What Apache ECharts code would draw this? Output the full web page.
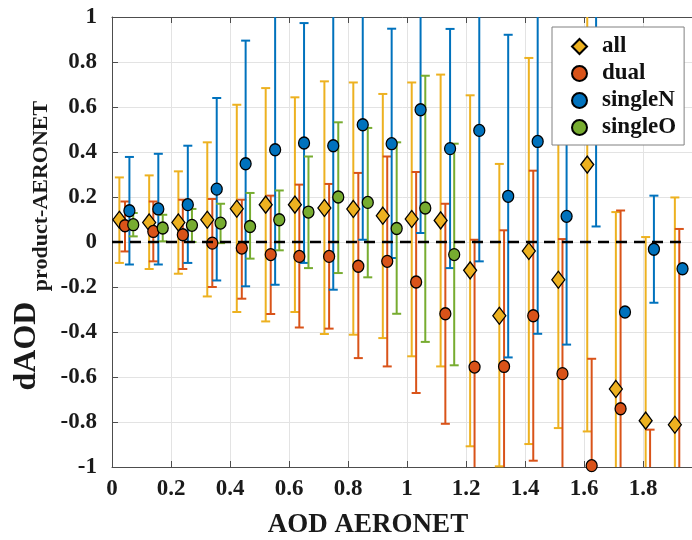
<!DOCTYPE html>
<html><head><meta charset="utf-8">
<script src="https://cdn.jsdelivr.net/npm/echarts@6/dist/echarts.min.js"></script>
<style>html,body{margin:0;padding:0;background:#fff}#c{width:692px;height:540px}</style>
</head><body><div id="c"></div>
<script>
// ---- data ----
const seriesNames = ['all', 'dual', 'singleN', 'singleO'];
const allX  = [0.025,0.126,0.225,0.323,0.423,0.521,0.620,0.720,0.818,0.918,1.016,1.114,1.214,1.313,1.413,1.513,1.611,1.708,1.809,1.908];
const allY  = [0.099,0.087,0.087,0.099,0.148,0.166,0.166,0.151,0.147,0.117,0.102,0.096,-0.126,-0.328,-0.040,-0.168,0.344,-0.653,-0.794,-0.812];
const allLo = [-0.093,-0.120,-0.141,-0.242,-0.311,-0.353,-0.311,-0.409,-0.412,-0.427,-0.508,-0.553,-0.908,-0.997,-0.898,-0.827,-0.842,-1.300,-1.300,-1.300];
const allHi = [0.287,0.296,0.314,0.443,0.610,0.684,0.643,0.714,0.709,0.658,0.709,0.744,0.652,0.347,0.818,0.800,1.200,0.133,0.022,0.198];

const dualX  = [0.044,0.140,0.240,0.340,0.440,0.538,0.635,0.736,0.835,0.933,1.031,1.130,1.229,1.329,1.428,1.527,1.626,1.724,1.824,1.923];
const dualY  = [0.072,0.047,0.032,-0.005,-0.027,-0.056,-0.064,-0.064,-0.108,-0.086,-0.178,-0.319,-0.556,-0.553,-0.328,-0.585,-0.994,-0.741,-1.200,-1.300];
const dualLo = [-0.042,-0.086,-0.120,-0.200,-0.252,-0.320,-0.380,-0.385,-0.516,-0.553,-0.671,-0.808,-1.300,-1.300,-0.972,-1.300,-1.500,-1.300,-1.600,-1.800];
const dualHi = [0.180,0.180,0.188,0.191,0.188,0.206,0.255,0.258,0.307,0.380,0.311,0.170,0.010,0.052,0.317,0.013,-0.519,0.140,-0.834,0.058];

const singleNX  = [0.059,0.157,0.257,0.355,0.453,0.553,0.651,0.750,0.850,0.948,1.046,1.146,1.245,1.343,1.443,1.541,1.641,1.739,1.837,1.934];
const singleNY  = [0.139,0.147,0.166,0.235,0.348,0.410,0.440,0.428,0.521,0.437,0.588,0.415,0.496,0.203,0.447,0.114,0.750,-0.311,-0.032,-0.119];
const singleNLo = [-0.100,-0.100,-0.093,-0.171,-0.197,-0.190,-0.093,-0.212,0.010,-0.071,0.040,-0.116,-0.086,-0.513,-0.408,-0.456,0.069,null,-0.270,null];
const singleNHi = [0.378,0.392,0.428,0.640,0.895,1.100,0.973,1.100,1.100,0.948,1.100,0.947,1.100,0.921,1.100,0.750,1.200,null,0.206,null];

const singleOX  = [0.072,0.172,0.271,0.368,0.468,0.567,0.666,0.767,0.867,0.965,1.062,1.160];
const singleOY  = [0.077,0.062,0.074,0.084,0.069,0.099,0.133,0.200,0.176,0.060,0.151,-0.056];
const singleOLo = [0.025,0.003,0.000,-0.005,-0.074,-0.037,-0.116,-0.138,-0.157,-0.319,-0.444,-0.548];
const singleOHi = [0.129,0.121,0.147,0.170,0.218,0.229,0.380,0.532,0.507,0.443,0.739,0.437];

const zeroLineX = [0, 1.934];
const zeroLineY = [0, 0];

// ---- styling ----
const colors = { all: '#EDB120', dual: '#D95319', singleN: '#0072BD', singleO: '#77AC30' };
const serif = '"Liberation Serif", "DejaVu Serif", serif';

function zip(a, b) { return a.map((v, i) => [v, b[i]]); }
function errData(x, lo, hi) {
  const out = [];
  x.forEach((v, i) => { if (lo[i] !== null && hi[i] !== null) out.push([v, lo[i], hi[i]]); });
  return out;
}
function errRender(color) {
  return function (params, api) {
    const x = api.value(0), lo = api.value(1), hi = api.value(2);
    const pLo = api.coord([x, lo]), pHi = api.coord([x, hi]);
    const cs = params.coordSys;
    const top = cs.y, bot = cs.y + cs.height;
    const clamp = v => Math.max(top, Math.min(bot, v));
    const y1 = clamp(pHi[1]), y2 = clamp(pLo[1]);
    const w = 4.5;
    const children = [];
    const st = () => ({ stroke: color, lineWidth: 2 });
    if (y2 > y1) children.push({ type: 'line', shape: { x1: pLo[0], y1: y1, x2: pLo[0], y2: y2 }, style: st() });
    if (pHi[1] >= top - 0.5 && pHi[1] <= bot + 0.5)
      children.push({ type: 'line', shape: { x1: pHi[0] - w, y1: pHi[1], x2: pHi[0] + w, y2: pHi[1] }, style: st() });
    if (pLo[1] >= top - 0.5 && pLo[1] <= bot + 0.5)
      children.push({ type: 'line', shape: { x1: pLo[0] - w, y1: pLo[1], x2: pLo[0] + w, y2: pLo[1] }, style: st() });
    return { type: 'group', children: children };
  };
}
function errSeries(name, x, lo, hi) {
  return { type: 'custom', name: name + '_err', renderItem: errRender(colors[name]),
    data: errData(x, lo, hi), silent: true, encode: { x: 0, y: [1, 2] } };
}
function ptSeries(name, x, y, symbol, size) {
  return { type: 'scatter', name: name, data: zip(x, y), symbol: symbol, symbolSize: size,
    itemStyle: { color: colors[name], borderColor: '#000', borderWidth: 1.3, opacity: 1 }, silent: true };
}

const axisLineColor = '#4d4d4d';
const chart = echarts.init(document.getElementById('c'), null, { renderer: 'canvas' });
chart.setOption({
  animation: false,
  grid: { left: 112, top: 17, width: 590, height: 450, containLabel: false, outerBoundsMode: 'none' },
  xAxis: [{
    type: 'value', min: 0, max: 2, interval: 0.2, position: 'bottom',
    axisLine: { show: true, onZero: false, lineStyle: { color: axisLineColor, width: 1 } },
    axisTick: { show: true, inside: true, length: 6, lineStyle: { color: axisLineColor } },
    splitLine: { show: true, lineStyle: { color: '#e3e3e3', width: 1 } },
    axisLabel: { fontFamily: serif, fontWeight: 'bold', fontSize: 23, color: '#1a1a1a', margin: 11,
      showMaxLabel: true, showMinLabel: true, hideOverlap: false }
  }, {
    type: 'value', min: 0, max: 2, interval: 0.2, position: 'top',
    axisLine: { show: true, onZero: false, lineStyle: { color: axisLineColor, width: 1 } },
    axisTick: { show: true, inside: true, length: 6, lineStyle: { color: axisLineColor } },
    splitLine: { show: false }, axisLabel: { show: false }
  }],
  yAxis: [{
    type: 'value', min: -1, max: 1, interval: 0.2,
    axisLine: { show: true, onZero: false, lineStyle: { color: axisLineColor, width: 1 } },
    axisTick: { show: true, inside: true, length: 6, lineStyle: { color: axisLineColor } },
    splitLine: { show: true, lineStyle: { color: '#e3e3e3', width: 1 } },
    axisLabel: { fontFamily: serif, fontWeight: 'bold', fontSize: 23, color: '#1a1a1a', margin: 15 }
  }],
  legend: {
    data: seriesNames, orient: 'vertical', left: 552, top: 27,
    itemWidth: 15, itemHeight: 15, itemGap: 0,
    padding: [6, 8, 4, 19],
    backgroundColor: '#fff', borderColor: '#808080', borderWidth: 1, borderRadius: 0,
    selectedMode: false,
    textStyle: { fontFamily: serif, fontWeight: 'bold', fontSize: 23, color: '#111', lineHeight: 27, padding: [0, 0, 0, 10] }
  },
  graphic: [
    { type: 'text', x: 368, y: 525, style: { text: 'AOD AERONET', font: 'bold 27px ' + serif, fill: '#1a1a1a', textAlign: 'center', textVerticalAlign: 'middle' } },
    { type: 'text', x: 27, y: 346, rotation: Math.PI / 2, style: { text: 'dAOD', font: 'bold 32px ' + serif, fill: '#1a1a1a', textAlign: 'center', textVerticalAlign: 'middle' } },
    { type: 'text', x: 41, y: 196, rotation: Math.PI / 2, style: { text: 'product-AERONET', font: 'bold 22px ' + serif, fill: '#1a1a1a', textAlign: 'center', textVerticalAlign: 'middle' } }
  ],
  series: [
    { type: 'line', name: 'zero', data: zip(zeroLineX, zeroLineY), symbol: 'none', silent: true,
      lineStyle: { color: '#000', width: 2.5, type: [11, 7] } },
    errSeries('all', allX, allLo, allHi),
    ptSeries('all', allX, allY, 'diamond', [13, 17]),
    errSeries('dual', dualX, dualLo, dualHi),
    ptSeries('dual', dualX, dualY, 'circle', [11, 12]),
    errSeries('singleN', singleNX, singleNLo, singleNHi),
    ptSeries('singleN', singleNX, singleNY, 'circle', [11, 12]),
    errSeries('singleO', singleOX, singleOLo, singleOHi),
    ptSeries('singleO', singleOX, singleOY, 'circle', [11, 12])
  ]
});
</script></body></html>
